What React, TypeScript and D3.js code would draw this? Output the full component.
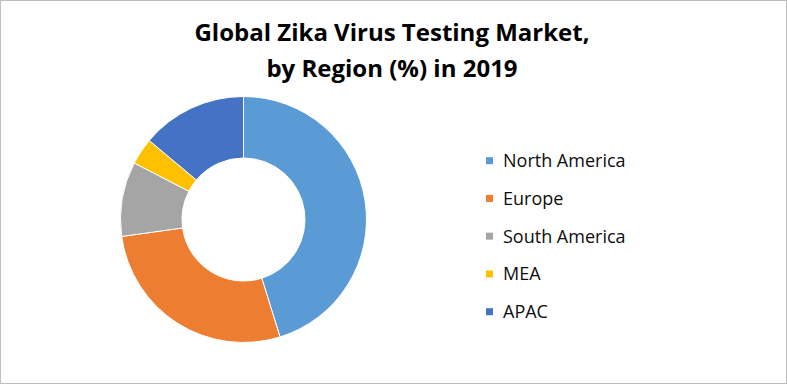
import React from "react";
import * as d3 from "d3";

const regions = ["North America", "Europe", "South America", "MEA", "APAC"];
const shares = [45.2, 27.6, 9.8, 3.5, 13.9];
const colors = ["#5B9BD5", "#ED7D31", "#A5A5A5", "#FFC000", "#4472C4"];
const titleLines = ["Global Zika Virus Testing Market,", "by Region (%) in 2019"];

const W = 787;
const H = 384;

export default function App() {
  const cx = 243.5;
  const cy = 219.5;
  const outerR = 123;
  const innerR = 61.5;
  const pie = d3.pie<number>().sort(null).value((d) => d)(shares);
  const arc = d3.arc<d3.PieArcDatum<number>>().innerRadius(innerR).outerRadius(outerR);
  const legendY = d3.scalePoint<string>().domain(regions).range([160.7, 311.7]);
  const font = "'Open Sans', sans-serif";
  return (
    <svg
      width={W}
      height={H}
      style={{ position: "fixed", left: 0, top: 0, background: "#fff" }}
      fontFamily={font}
    >
      <rect x={0.5} y={0.5} width={W - 1} height={H - 1} fill="#fff" stroke="#BFBFBF" />
      {titleLines.map((t, i) => (
        <text
          key={i}
          x={392}
          y={41 + i * 36}
          textAnchor="middle"
          fontWeight="bold"
          fontSize={24}
          fill="#000"
        >
          {t}
        </text>
      ))}
      <g transform={`translate(${cx},${cy})`}>
        {pie.map((p, i) => (
          <path key={i} d={arc(p) || ""} fill={colors[i]} stroke="#fff" strokeWidth={1} />
        ))}
      </g>
      {regions.map((r, i) => (
        <g key={r}>
          <rect x={486} y={(legendY(r) as number) - 3.5} width={7} height={7} fill={colors[i]} />
          <text x={503} y={(legendY(r) as number) + 6.5} fontSize={18} fill="#0D0D0D">
            {r}
          </text>
        </g>
      ))}
    </svg>
  );
}
